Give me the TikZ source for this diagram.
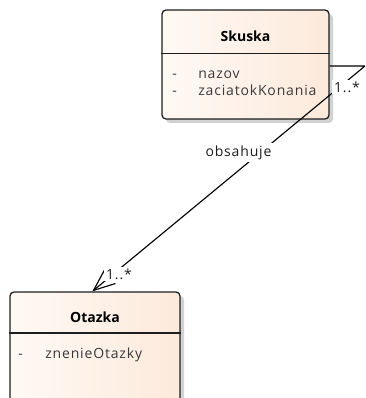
\documentclass[tikz,border=0pt]{standalone}
\usepackage{fontspec}
\setmainfont{Open Sans}
\newfontfamily\umlfont{Open Sans}[LetterSpace=6]
\usetikzlibrary{arrows.meta,shadows}

\definecolor{peach}{HTML}{FBE2CF}
\definecolor{peachlight}{HTML}{FFFAF6}
\definecolor{shadowgray}{HTML}{D2D2D2}
\definecolor{ink}{HTML}{1E1E1E}
\definecolor{attrgray}{HTML}{3A3A3A}

% peach at the edges, almost white a fifth of the way in
\pgfdeclarehorizontalshading{classfill}{100bp}{color(0bp)=(peach); color(22bp)=(peachlight); color(100bp)=(peach)}

\begin{document}
\begin{tikzpicture}[x=0.75pt,y=-0.75pt,
  classbox/.style={draw=ink, line width=0.95pt, rounded corners=3pt,
    shading=classfill, inner sep=0pt,
    general shadow={fill=shadowgray, shadow xshift=3pt, shadow yshift=-3pt}},
  classname/.style={font=\fontsize{10.5pt}{12pt}\selectfont\bfseries, text=black, inner sep=0pt},
  attr/.style={font=\umlfont\fontsize{10.5pt}{12pt}\selectfont, text=attrgray, inner sep=0pt, anchor=base west},
  divider/.style={draw=ink, line width=0.95pt},
  assoc/.style={draw=black, line width=0.85pt, line join=miter},
  mult/.style={font=\umlfont\fontsize{10.5pt}{12pt}\selectfont, text=ink, fill=white, inner sep=1.5pt},
  rolelabel/.style={font=\umlfont\fontsize{10.5pt}{12pt}\selectfont, text=ink, fill=white, inner sep=2pt}]

\useasboundingbox (0,0) rectangle (365,398);
\clip (0,0) rectangle (365,398);

% class Skuska
\node[classbox, minimum width=125.25pt, minimum height=81.75pt] (skuska) at (245.5,64.5) {};
\coordinate (sdiv) at (0,53.5);
\draw[divider] (skuska.west |- sdiv) -- (skuska.east |- sdiv);
\node[classname, anchor=base] (skuskaname) at (245.5,41.5) {Skuska};
\node[attr] (sdash1) at (172,79) {-};
\node[attr] (snazov) at (198,79) {nazov};
\node[attr] (sdash2) at (172,96) {-};
\node[attr] (szaciatok) at (198,96) {zaciatokKonania};

% class Otazka (continues below the visible area)
\node[classbox, minimum width=127.5pt, minimum height=96pt] (otazka) at (95,356) {};
\coordinate (odiv) at (0,333);
\draw[divider] (otazka.west |- odiv) -- (otazka.east |- odiv);
\node[classname, anchor=base] (otazkaname) at (95,322.5) {Otazka};
\node[attr] (odash1) at (18,358) {-};
\node[attr] (oznenie) at (45,358) {znenieOtazky};

% association obsahuje
\coordinate (bend) at (365,66);
\coordinate (otip) at ([xshift=-2pt]otazka.north);
\draw[assoc, -{Straight Barb[length=16pt,width=13pt,line width=0.85pt]}]
  (skuska.east |- bend) -- (bend) -- (otip);
\node[rolelabel] (obsahuje) at (238.5,152.5) {obsahuje};
\node[mult] (multskuska) at (347,87) {1..*};
\node[mult] (multotazka) at (119,274) {1..*};

\end{tikzpicture}
\end{document}
